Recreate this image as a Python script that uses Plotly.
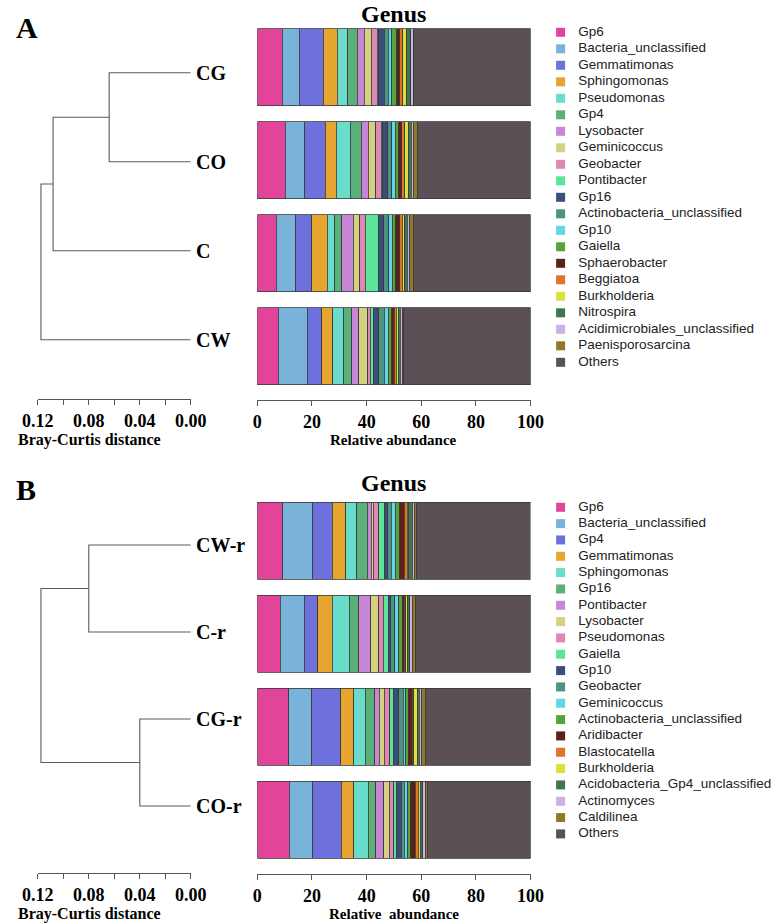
import plotly.graph_objects as go

W, H = 777, 924

# ---------------- Panel A data ----------------
genera_A = ["Gp6", "Bacteria_unclassified", "Gemmatimonas", "Sphingomonas", "Pseudomonas",
            "Gp4", "Lysobacter", "Geminicoccus", "Geobacter", "Pontibacter", "Gp16",
            "Actinobacteria_unclassified", "Gp10", "Gaiella", "Sphaerobacter", "Beggiatoa",
            "Burkholderia", "Nitrospira", "Acidimicrobiales_unclassified", "Paenisporosarcina", "Others"]
samples_A = ["CG", "CO", "C", "CW"]
CG = [9.2, 6.1, 8.9, 5.0, 3.9, 3.4, 2.7, 2.5, 2.2, 0.3, 2.2, 1.5, 1.2, 2.0, 1.1, 1.1, 1.3, 1.5, 1.0, 0.2, 42.8]
CO = [10.2, 7.2, 7.5, 3.9, 5.2, 4.0, 2.6, 2.7, 2.1, 0.4, 1.9, 1.4, 1.4, 1.3, 1.1, 1.1, 1.2, 1.2, 0.7, 1.6, 41.3]
C = [7.0, 7.1, 5.9, 5.5, 2.8, 2.6, 4.2, 2.4, 1.9, 4.9, 1.9, 1.8, 1.3, 1.2, 1.7, 0.9, 0.9, 0.9, 0.9, 1.5, 42.7]
CW = [7.6, 10.6, 5.4, 4.0, 4.0, 3.0, 2.6, 3.2, 1.0, 1.0, 2.0, 2.0, 1.5, 1.2, 1.0, 0.8, 0.6, 0.8, 0.8, 0.4, 46.5]
values_A = [CG, CO, C, CW]

# dendrogram A: (left, right, height, new node)
leaves_A = ["CG", "CO", "C", "CW"]
merges_A = [("CG", "CO", 0.064, "n1"), ("n1", "C", 0.108, "n2"), ("n2", "CW", 0.1175, "root")]

# ---------------- Panel B data ----------------
genera_B = ["Gp6", "Bacteria_unclassified", "Gp4", "Gemmatimonas", "Sphingomonas", "Gp16",
            "Pontibacter", "Lysobacter", "Pseudomonas", "Gaiella", "Gp10", "Geobacter",
            "Geminicoccus", "Actinobacteria_unclassified", "Aridibacter", "Blastocatella",
            "Burkholderia", "Acidobacteria_Gp4_unclassified", "Actinomyces", "Caldilinea", "Others"]
samples_B = ["CW-r", "C-r", "CG-r", "CO-r"]
CW_r = [9.3, 10.9, 7.2, 4.9, 4.1, 3.8, 1.4, 0.8, 2.1, 1.9, 1.4, 1.2, 1.5, 1.5, 1.8, 1.1, 0.6, 1.2, 0.8, 0.8, 41.9]
C_r = [8.4, 8.7, 5.1, 5.3, 6.2, 3.5, 4.3, 2.9, 1.6, 1.9, 1.0, 1.4, 1.5, 1.2, 0.8, 0.6, 0.6, 0.8, 0.9, 1.0, 42.3]
CG_r = [11.5, 8.4, 10.6, 4.8, 4.2, 3.4, 1.8, 1.8, 2.0, 1.5, 1.8, 1.6, 1.0, 0.9, 1.4, 0.6, 1.2, 0.8, 0.9, 1.4, 38.4]
CO_r = [11.7, 8.5, 10.5, 4.6, 5.3, 2.7, 2.9, 2.0, 1.7, 1.0, 1.7, 1.2, 1.2, 1.1, 1.6, 1.1, 0.8, 1.0, 0.8, 0.8, 37.8]
values_B = [CW_r, C_r, CG_r, CO_r]

leaves_B = ["CW-r", "C-r", "CG-r", "CO-r"]
merges_B = [("CW-r", "C-r", 0.080, "n1"), ("CG-r", "CO-r", 0.040, "n2"), ("n1", "n2", 0.1175, "root")]

colors = ["#E2449A", "#7AB3D9", "#6E70DC", "#E5A52E", "#6ADCCB", "#5BAF78", "#C786D6",
          "#D4D280", "#E087B5", "#5CE59A", "#3B4E7A", "#4C9381", "#62D5E6", "#55A43A",
          "#5A2219", "#E0732E", "#D8E23A", "#3E7650", "#C9B2E4", "#8E7A27", "#5B5056"]

dist_ticks = [0.12, 0.10, 0.08, 0.06, 0.04, 0.02, 0.00]
dist_ticktext = ["0.12", "", "0.08", "", "0.04", "", "0.00"]
abund_ticks = [0, 20, 40, 60, 80, 100]

SERIF = "Liberation Serif"
SANS = "Liberation Sans"


def px_y(p):
    return (H - p) / H


def px_x(p):
    return p / W


def dendro_segments(leaves, merges):
    pos = {name: (0.0, float(i)) for i, name in enumerate(leaves)}
    xs, ys = [], []
    for a, b, h, new in merges:
        ha, ya = pos[a]
        hb, yb = pos[b]
        xs += [ha, h, h, hb, None]
        ys += [ya, ya, yb, yb, None]
        pos[new] = (h, (ya + yb) / 2)
    return xs, ys


fig = go.Figure()

panels = [
    dict(genera=genera_A, samples=samples_A, values=values_A, leaves=leaves_A, merges=merges_A,
         ax=("", "2", "3"), top=20, bottom=400, dtop=20, dbottom=399, leaf0=72.7, leafstep=89,
         bar0=67, barstep=93, leg0=32.3, legstep=16.5, title_y=14, label="A", label_y=28,
         xtitle="Relative abundance"),
    dict(genera=genera_B, samples=samples_B, values=values_B, leaves=leaves_B, merges=merges_B,
         ax=("4", "5", "6"), top=494, bottom=874, dtop=494, dbottom=873, leaf0=545, leafstep=87,
         bar0=540.5, barstep=93, leg0=507.3, legstep=16.33, title_y=483, label="B", label_y=489,
         xtitle="Relative  abundance"),
]

layout_axes = {}
annotations = []

for P in panels:
    sd, sb, sl = P["ax"]
    xd, yd = "x" + sd, "y" + sd
    xb, yb = "x" + sb, "y" + sb
    xl, yl = "x" + sl, "y" + sl

    # dendrogram
    dx, dy = dendro_segments(P["leaves"], P["merges"])
    fig.add_trace(go.Scatter(x=dx, y=dy, mode="lines", line=dict(color="#5a5a5a", width=1.1),
                             xaxis=xd, yaxis=yd, hoverinfo="skip"))
    for i, name in enumerate(P["leaves"]):
        annotations.append(dict(x=0, y=i, xref=xd, yref=yd, text="<b>%s</b>" % name,
                                showarrow=False, xanchor="left", yanchor="middle", xshift=3,
                                font=dict(family=SERIF, size=20, color="black")))

    # stacked bars
    for j, g in enumerate(P["genera"]):
        fig.add_trace(go.Bar(y=P["samples"], x=[v[j] for v in P["values"]], orientation="h",
                             name=g, marker=dict(color=colors[j], line=dict(color="#3a3a3a", width=0.8)),
                             xaxis=xb, yaxis=yb, hoverinfo="x+name"))

    # legend drawn on its own axes
    n = len(P["genera"])
    ly = [P["leg0"] + P["legstep"] * i for i in range(n)]
    fig.add_trace(go.Scatter(x=[0] * n, y=ly, mode="markers",
                             marker=dict(symbol="square", size=9, color=colors[:n], line=dict(width=0)),
                             xaxis=xl, yaxis=yl, hoverinfo="skip", cliponaxis=False))
    fig.add_trace(go.Scatter(x=[18.5] * n, y=ly, mode="text", text=P["genera"],
                             textposition="middle right",
                             textfont=dict(family=SANS, size=13.5, color="#222"),
                             xaxis=xl, yaxis=yl, hoverinfo="skip", cliponaxis=False))

    ydom_d = [px_y(P["dbottom"]), px_y(P["dtop"])]
    ydom_b = [px_y(P["bottom"]), px_y(P["top"])]
    kx = lambda s: "xaxis" + s
    ky = lambda s: "yaxis" + s
    layout_axes[kx(sd)] = dict(domain=[px_x(22.7), px_x(182.3)], range=[0.12, 0.0], anchor=yd,
                               showline=True, linecolor="#555", linewidth=1, ticks="outside",
                               ticklen=5, tickcolor="#555", tickvals=dist_ticks, ticktext=dist_ticktext,
                               tickfont=dict(family=SERIF, size=18, color="black", weight="bold"),
                               showgrid=False, zeroline=False, fixedrange=True)
    layout_axes[ky(sd)] = dict(domain=ydom_d, anchor=xd,
                               range=[(P["dbottom"] - P["leaf0"]) / P["leafstep"],
                                      (P["dtop"] - P["leaf0"]) / P["leafstep"]],
                               visible=False, fixedrange=True)
    layout_axes[kx(sb)] = dict(domain=[px_x(251.7), px_x(536.7)], range=[0, 100], anchor=yb,
                               showline=True, linecolor="#555", linewidth=1, ticks="outside",
                               ticklen=5, tickcolor="#555", tickvals=abund_ticks,
                               tickfont=dict(family=SERIF, size=18, color="black", weight="bold"),
                               showgrid=False, zeroline=False, fixedrange=True)
    layout_axes[ky(sb)] = dict(domain=ydom_b, anchor=xb, type="category",
                               categoryorder="array", categoryarray=P["samples"],
                               range=[(P["bottom"] - P["bar0"]) / P["barstep"],
                                      (P["top"] - P["bar0"]) / P["barstep"]],
                               visible=False, fixedrange=True)
    layout_axes[kx(sl)] = dict(domain=[px_x(559.4), 1.0], range=[-8.6, 209], anchor=yl,
                               visible=False, fixedrange=True)
    layout_axes[ky(sl)] = dict(domain=ydom_b, range=[P["bottom"], P["top"]], anchor=xl,
                               visible=False, fixedrange=True)

    # titles
    annotations.append(dict(x=px_x(394.2), y=px_y(P["title_y"]), xref="paper", yref="paper",
                            text="<b>Genus</b>", showarrow=False, xanchor="center", yanchor="middle",
                            font=dict(family=SERIF, size=24, color="black")))
    annotations.append(dict(x=0, y=px_y(P["label_y"]), xref="paper", yref="paper",
                            text="<b>%s</b>" % P["label"], showarrow=False, xanchor="left",
                            yanchor="middle", xshift=-2,
                            font=dict(family=SERIF, size=30, color="black")))
    annotations.append(dict(x=px_x(394.2), y=px_y(P["bottom"] + 40), xref="paper", yref="paper",
                            text="<b>%s</b>" % P["xtitle"], showarrow=False, xanchor="center",
                            yanchor="middle", font=dict(family=SERIF, size=15, color="black")))
    annotations.append(dict(x=px_x(77), y=px_y(P["bottom"] + 40), xref="paper", yref="paper",
                            text="<b>Bray-Curtis distance</b>", showarrow=False, xanchor="center",
                            yanchor="middle", font=dict(family=SERIF, size=16, color="black")))

fig.update_layout(width=W, height=H, margin=dict(l=0, r=0, t=0, b=0), barmode="stack",
                  bargap=0.172, showlegend=False, plot_bgcolor="white", paper_bgcolor="white",
                  annotations=annotations, **layout_axes)

fig.write_html("out.html", config={"displayModeBar": False},
               post_script="document.body.style.margin='0px';")
